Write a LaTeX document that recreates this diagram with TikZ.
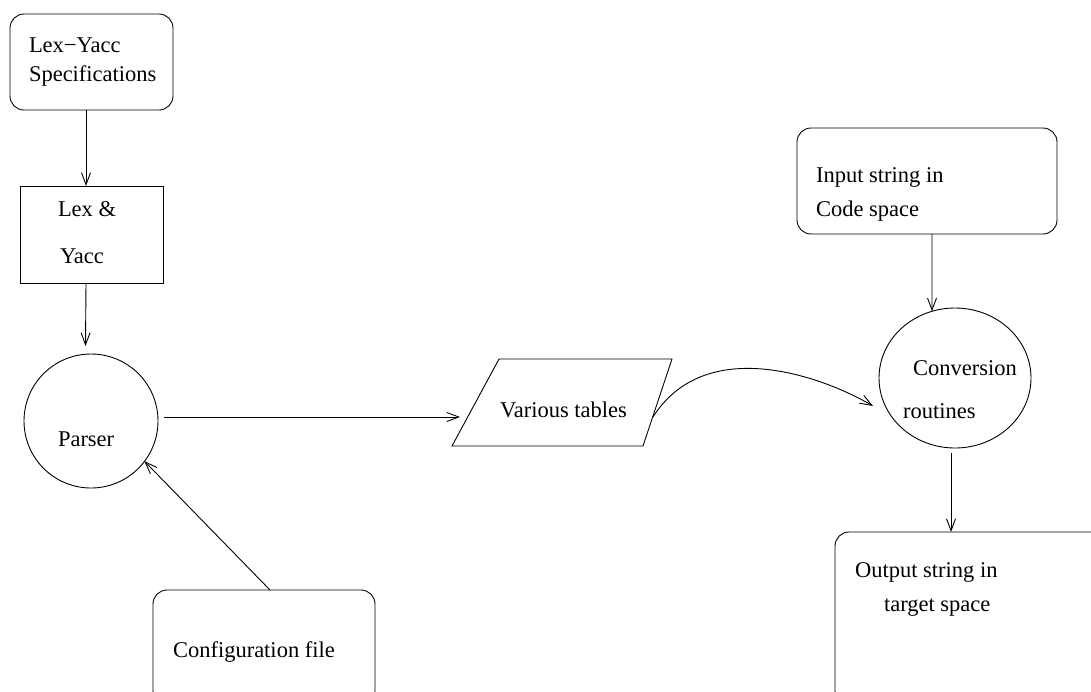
\documentclass[tikz,border=0pt]{standalone}
\usepackage{fontspec}
\setmainfont{Liberation Serif}
\usetikzlibrary{arrows.meta,shapes.geometric}
\begin{document}
\begin{tikzpicture}[x=1pt,y=-1pt,
  every node/.style={inner sep=0pt,outer sep=0pt},
  lbl/.style={anchor=base west,font=\fontsize{22.5}{27}\selectfont},
  rbox/.style={draw,rounded corners=14pt,line width=0.9pt},
  sbox/.style={draw,line width=0.9pt},
  conn/.style={line width=0.9pt,-{Straight Barb[length=12pt,width=9pt]}}]
\useasboundingbox (0,0) rectangle (1091,691);
\clip (0,0) rectangle (1091,691);
\fill[white] (0,0) rectangle (1091,691);
% shapes
\node[rbox,minimum width=163pt,minimum height=96pt] (spec) at (91.5,62) {};
\node[sbox,minimum width=143pt,minimum height=97pt] (lex) at (91.5,234.5) {};
\node[sbox,circle,minimum size=134pt] (parser) at (91,421) {};
\node[rbox,minimum width=222pt,minimum height=115pt] (config) at (264,647.5) {};
\coordinate (p1) at (499,359);
\coordinate (p2) at (672,359);
\coordinate (p3) at (643,446);
\coordinate (p4) at (452,446);
\draw[line width=0.9pt] (p1) -- (p2) -- (p3) -- (p4) -- cycle;
\coordinate (tin) at (460,417);
\coordinate (tout) at (653,417);
\node[sbox,ellipse,minimum width=152pt,minimum height=140pt] (conv) at (955,378) {};
\node[rbox,minimum width=260pt,minimum height=106pt] (input) at (927,181) {};
\node[rbox,minimum width=285pt,minimum height=173pt] (output) at (977.5,618.5) {};
\coordinate (cin) at ([shift={(-6pt,-28pt)}]conv.west);
% texts
\node[lbl] (t1a) at (29,52) {Lex−Yacc};
\node[lbl] (t1b) at (29,81) {Specifications};
\node[lbl] (t2a) at (58,216) {Lex \&};
\node[lbl] (t2b) at (60,263) {Yacc};
\node[lbl] (t3) at (58,446) {Parser};
\node[lbl] (t4) at (173,657) {Configuration file};
\node[lbl] (t5) at (500,417) {Various tables};
\node[lbl] (t6a) at (913,375) {Conversion};
\node[lbl] (t6b) at (903,418) {routines};
\node[lbl] (t7a) at (816,182) {Input string in};
\node[lbl] (t7b) at (816,216) {Code space};
\node[lbl] (t8a) at (855,577) {Output string in};
\node[lbl] (t8b) at (884,611) {target space};
% connectors
\draw[conn] ([xshift=-5.5pt]spec.south) -- ([xshift=-5.5pt]lex.north);
\draw[conn] ([xshift=-5.5pt]lex.south) -- ([xshift=-5.5pt,yshift=8pt]parser.north);
\draw[conn] ([yshift=4pt,xshift=6pt]parser.east) -- (tin);
\draw[conn] ([xshift=6pt]config.north) -- ([shift={(2pt,3pt)}]parser.-40);
\draw[conn] (tout) .. controls (705,335) and (820,375) .. (cin);
\draw[conn] ([xshift=5pt]input.south) -- (conv.109);
\draw[conn] ([xshift=-4pt,yshift=-5pt]conv.south) -- ([xshift=-4pt]conv.south |- output.north);
\end{tikzpicture}
\end{document}
